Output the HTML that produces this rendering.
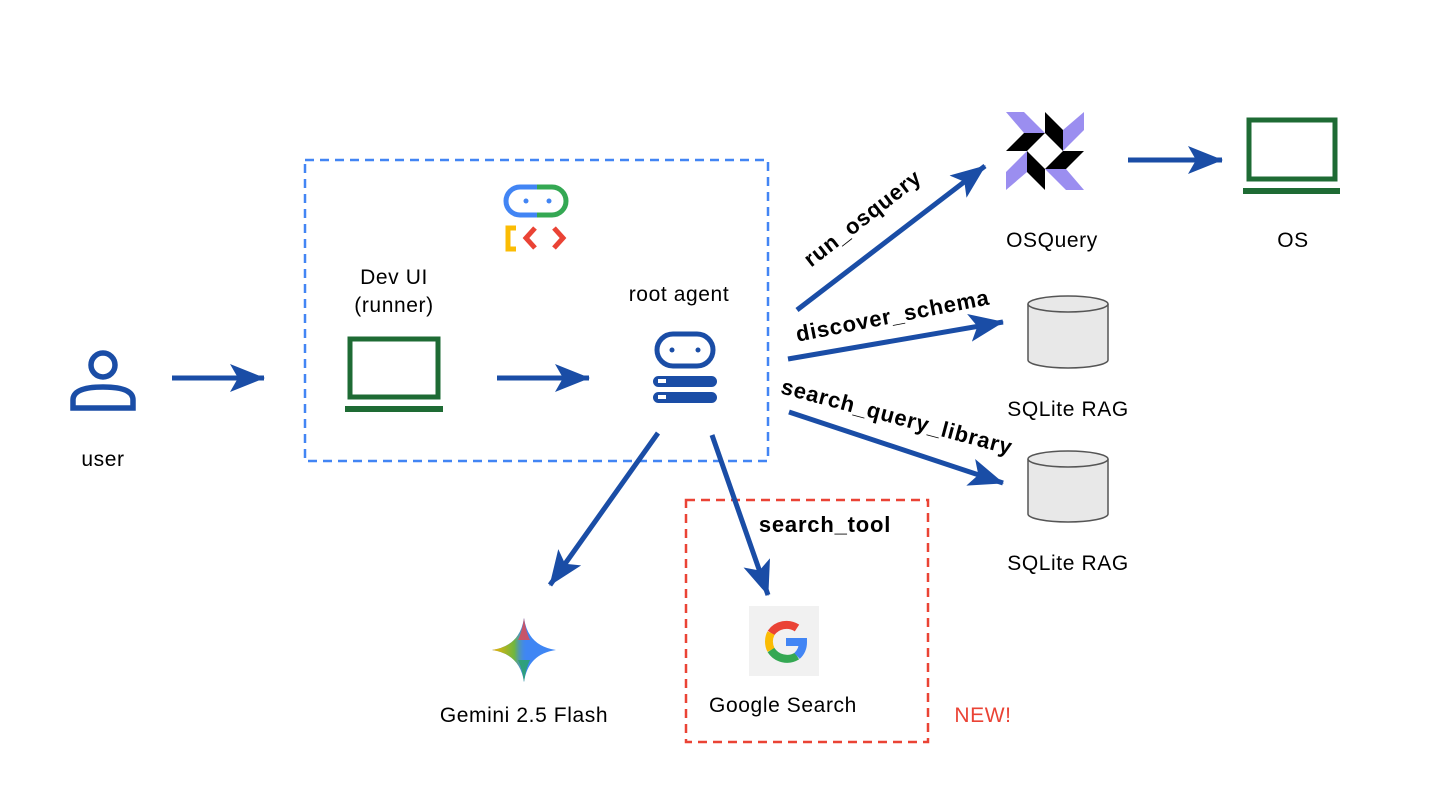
<!DOCTYPE html>
<html><head><meta charset="utf-8"><style>
body{margin:0;background:#fff;}
svg{display:block;font-family:"Liberation Sans",sans-serif;}
</style></head><body>
<svg width="1440" height="810" viewBox="0 0 1440 810" xmlns="http://www.w3.org/2000/svg">
<defs>
<marker id="ah" markerUnits="userSpaceOnUse" markerWidth="40" markerHeight="30" refX="34" refY="14" orient="auto">
<path d="M0,0 L35,14 L0,28 L8,14 Z" fill="#1a4da6"/>
</marker>
<linearGradient id="gem2" x1="0" y1="0" x2="1" y2="0">
<stop offset="0" stop-color="#f5b400"/><stop offset="0.35" stop-color="#6fb640"/><stop offset="0.55" stop-color="#3f86f4" stop-opacity="0"/>
</linearGradient>
</defs>

<rect x="305" y="160" width="463" height="301" fill="none" stroke="#4285f4" stroke-width="2.5" stroke-dasharray="9,6"/>
<rect x="686" y="500" width="242" height="242" fill="none" stroke="#ea4335" stroke-width="2.5" stroke-dasharray="9,6"/>

<g stroke="#1a4da6" stroke-width="5" fill="none" marker-end="url(#ah)">
<line x1="172" y1="378" x2="264" y2="378"/>
<line x1="497" y1="378" x2="589" y2="378"/>
<line x1="797" y1="310" x2="985" y2="166"/>
<line x1="788" y1="359" x2="1003" y2="322"/>
<line x1="789" y1="412" x2="1003" y2="483"/>
<line x1="658" y1="433" x2="550" y2="585"/>
<line x1="712" y1="435" x2="768" y2="595"/>
<line x1="1128" y1="160" x2="1222" y2="160"/>
</g>

<g stroke="#1a4da6" stroke-width="5.5" fill="none">
<circle cx="103" cy="365" r="12"/>
<path d="M73,408 L73,400 Q73,387 103,387 Q133,387 133,400 L133,408 Z"/>
</g>

<g font-size="21" text-anchor="middle" letter-spacing="0.6">
<text x="103" y="466">user</text>
<text x="394" y="284">Dev UI</text>
<text x="394" y="312">(runner)</text>
<text x="679" y="301">root agent</text>
<text x="1052" y="247">OSQuery</text>
<text x="1293" y="247">OS</text>
<text x="1068" y="416">SQLite RAG</text>
<text x="1068" y="570">SQLite RAG</text>
<text x="524" y="722">Gemini 2.5 Flash</text>
<text x="783" y="712">Google Search</text>
<text x="983" y="722" fill="#ea4335">NEW!</text>
</g>

<rect x="350" y="339" width="88" height="58" fill="none" stroke="#1e6b34" stroke-width="5"/>
<rect x="345" y="406" width="98" height="6" fill="#1e6b34"/>

<path d="M537,187 L520,187 A14,14 0 0 0 520,215 L537,215" fill="none" stroke="#4285f4" stroke-width="5"/>
<path d="M537,187 L552,187 A14,14 0 0 1 552,215 L537,215" fill="none" stroke="#34a853" stroke-width="5"/>
<circle cx="526" cy="201" r="2.5" fill="#4285f4"/><circle cx="549" cy="201" r="2.5" fill="#4285f4"/>
<path d="M516,228 L508,228 L508,249 L516,249" fill="none" stroke="#fbbc04" stroke-width="5"/>
<path d="M535,228 L526,238 L535,248" fill="none" stroke="#ea4335" stroke-width="5"/>
<path d="M554,228 L563,238 L554,248" fill="none" stroke="#ea4335" stroke-width="5"/>

<rect x="657" y="334" width="56" height="32" rx="16" fill="none" stroke="#1a4da6" stroke-width="5"/>
<circle cx="672" cy="350" r="2.5" fill="#1a4da6"/><circle cx="698" cy="350" r="2.5" fill="#1a4da6"/>
<rect x="653" y="376" width="64" height="11" rx="5.5" fill="#1a4da6"/>
<rect x="653" y="392" width="64" height="11" rx="5.5" fill="#1a4da6"/>
<rect x="658" y="379" width="8" height="4" fill="#fff"/><rect x="658" y="395" width="8" height="4" fill="#fff"/>

<g font-size="22" font-weight="bold" text-anchor="middle" letter-spacing="0.8">
<text transform="translate(867,224) rotate(-38)">run_osquery</text>
<text transform="translate(894,323) rotate(-11)">discover_schema</text>
<text transform="translate(895,424) rotate(15)">search_query_library</text>
<text x="825" y="532">search_tool</text>
</g>

<!-- OSQuery logo -->
<g transform="translate(1045,151)">
<g fill="#9b8ef0">
<polygon points="-39,-39 -21,-39 0,-18 -21,-18"/>
<polygon points="39,-39 39,-21 18,0 18,-21"/>
<polygon points="39,39 21,39 0,18 21,18"/>
<polygon points="-39,39 -39,21 -18,0 -18,21"/>
</g>
<g fill="#000">
<polygon points="-18,0 0,-18 -21,-18 -39,0"/>
<polygon points="0,-18 18,0 18,-21 0,-39"/>
<polygon points="18,0 0,18 21,18 39,0"/>
<polygon points="0,18 -18,0 -18,21 0,39"/>
</g>
</g>

<rect x="1249" y="120" width="86" height="59" fill="none" stroke="#1e6b34" stroke-width="5"/>
<rect x="1243" y="188" width="97" height="6" fill="#1e6b34"/>

<g fill="#e8e8e8" stroke="#555" stroke-width="1.5">
<path d="M1028,304 L1028,360 A40,8 0 0 0 1108,360 L1108,304"/>
<ellipse cx="1068" cy="304" rx="40" ry="8"/>
<path d="M1028,459 L1028,514 A40,8 0 0 0 1108,514 L1108,459"/>
<ellipse cx="1068" cy="459" rx="40" ry="8"/>
</g>

<path d="M524,618 Q528,646 556,650 Q528,654 524,682 Q520,654 492,650 Q520,646 524,618 Z" fill="#3f86f4"/>
<path d="M524,618 Q528,646 556,650 Q528,654 524,682 Q520,654 492,650 Q520,646 524,618 Z" fill="url(#gem2)"/>
<path d="M524,618 Q526,632 530,640 L518,640 Q522,632 524,618 Z" fill="#e8474a" opacity="0.8"/>
<path d="M524,682 Q526,668 530,660 L518,660 Q522,668 524,682 Z" fill="#2aa563" opacity="0.8"/>

<rect x="749" y="606" width="70" height="70" fill="#f1f1f1"/>
<g fill="none" stroke-width="8">
<path d="M797,628 A19,19 0 0 0 771,633" stroke="#ea4335"/>
<path d="M771,633 A19,19 0 0 0 771,650" stroke="#fbbc04"/>
<path d="M771,650 A19,19 0 0 0 797,656" stroke="#34a853"/>
<path d="M797,656 A19,19 0 0 0 803,642 L786,642" stroke="#4285f4"/>
</g>
</svg>
</body></html>
